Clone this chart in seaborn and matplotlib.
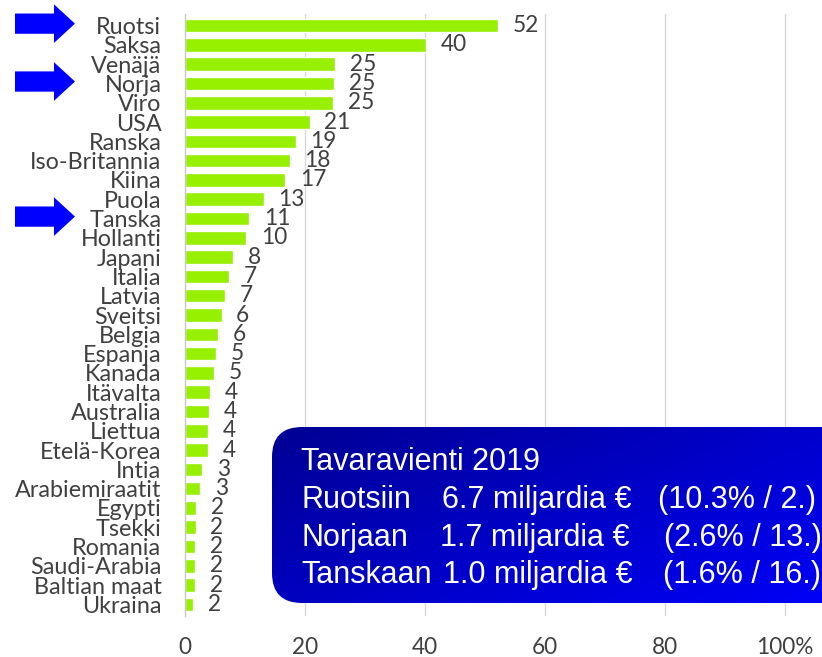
import numpy as np
import pandas as pd
import seaborn as sns
import matplotlib.pyplot as plt
import matplotlib.transforms as mtransforms
from matplotlib.patches import FancyArrow, FancyBboxPatch

# export share per country (%)
countries = ['Ruotsi', 'Saksa', 'Venäjä', 'Norja', 'Viro', 'USA', 'Ranska',
             'Iso-Britannia', 'Kiina', 'Puola', 'Tanska', 'Hollanti', 'Japani',
             'Italia', 'Latvia', 'Sveitsi', 'Belgia', 'Espanja', 'Kanada',
             'Itävalta', 'Australia', 'Liettua', 'Etelä-Korea', 'Intia',
             'Arabiemiraatit', 'Egypti', 'Tsekki', 'Romania', 'Saudi-Arabia',
             'Baltian maat', 'Ukraina']
values = [52.2, 40.2, 25.0, 24.9, 24.7, 20.8, 18.5, 17.5, 16.7, 13.1, 10.7,
          10.2, 8.0, 7.3, 6.7, 6.1, 5.5, 5.2, 4.9, 4.2, 4.0, 3.8, 3.8, 2.9,
          2.5, 1.9, 1.8, 1.7, 1.7, 1.7, 1.4]
value_labels = ['52', '40', '25', '25', '25', '21', '19', '18', '17', '13',
                '11', '10', '8', '7', '7', '6', '6', '5', '5', '4', '4', '4',
                '4', '3', '3', '2', '2', '2', '2', '2', '2']
x_ticks = [0, 20, 40, 60, 80, 100]
x_tick_labels = ['0', '20', '40', '60', '80', '100%']
highlighted = ['Ruotsi', 'Norja', 'Tanska']

box_title = 'Tavaravienti 2019'
box_names = ['Ruotsiin', 'Norjaan', 'Tanskaan']
box_amounts = ['6.7 miljardia €', '1.7 miljardia €', '1.0 miljardia €']
box_shares = ['(10.3% / 2.)', '(2.6% / 13.)', '(1.6% / 16.)']

df = pd.DataFrame({'maa': countries, 'osuus': values})

sns.set_theme(style='white')
plt.rcParams['font.family'] = ['Lato', 'DejaVu Sans']
text_col = '#404040'

fig = plt.figure(figsize=(8.22, 6.57), dpi=100)
W, H = 822, 657
ax = fig.add_axes([185 / W, 1 - 616 / H, (W - 185) / W, (616 - 14) / H])

sns.barplot(data=df, x='osuus', y='maa', color='#96F000', width=0.7,
            saturation=1, ax=ax)
ax.bar_label(ax.containers[0], labels=value_labels, padding=10.5,
             fontsize=16.3, color=text_col)

ax.set_xlim(0, (W - 185) / 6.0)
ax.set_ylim(len(countries) - 0.4, -0.6)
ax.set_xticks(x_ticks)
ax.set_xticklabels(x_tick_labels)
ax.tick_params(axis='x', length=0, pad=15, labelsize=16.3, labelcolor=text_col)
ax.tick_params(axis='y', length=0, pad=17, labelsize=16.8, labelcolor=text_col)
ax.set_xlabel('')
ax.set_ylabel('')
for x in x_ticks[1:]:
    ax.axvline(x, color='#D9D9D9', lw=1, zorder=0)
for s in ['top', 'right', 'bottom']:
    ax.spines[s].set_visible(False)
ax.spines['left'].set_color('#C8C8C8')
ax.spines['left'].set_linewidth(1)

# blue arrows beside the highlighted countries
blend = mtransforms.blended_transform_factory(fig.transFigure, ax.transData)
for name in highlighted:
    yi = countries.index(name) - 0.1
    arr = FancyArrow(15 / W, yi, 60 / W, 0, width=1.05, head_width=2.0,
                     head_length=21 / W, length_includes_head=True,
                     color='#0000FF', lw=0, transform=blend, clip_on=False)
    ax.add_patch(arr)

# gradient info box (runs past the right edge)
bx0, by_top, by_bot, bx1 = 272, 427, 603, 900
bw, bh = bx1 - bx0, by_bot - by_top
box_ax = fig.add_axes([bx0 / W, 1 - by_bot / H, bw / W, bh / H])
box_ax.axis('off')
gx, gy = np.meshgrid(np.linspace(0, 1, 300), np.linspace(0, 1, 100))
grad = 0.6 * gx + 0.4 * gy
rgb = np.zeros(grad.shape + (3,))
rgb[..., 2] = 0.58 + 0.42 * grad
patch = FancyBboxPatch((0, 0), bw, bh, boxstyle='round,pad=0,rounding_size=30',
                       facecolor='none', edgecolor='none')
box_ax.add_patch(patch)
im = box_ax.imshow(rgb, extent=(0, bw, 0, bh), aspect='auto', origin='upper')
im.set_clip_path(patch)
box_ax.set_xlim(0, bw)
box_ax.set_ylim(0, bh)

box_font = dict(color='white', fontsize=22, va='baseline', ha='left',
                family=['Liberation Sans', 'DejaVu Sans'])
box_ax.text(301 - bx0, by_bot - 470, box_title, **box_font)
baselines = [508, 546, 583]
amount_x = [442, 440, 443]
share_x = [658, 664, 663]
for i, base in enumerate(baselines):
    y = by_bot - base
    box_ax.text(301 - bx0, y, box_names[i], **box_font)
    box_ax.text(amount_x[i] - bx0, y, box_amounts[i], **box_font)
    box_ax.text(share_x[i] - bx0, y, box_shares[i], **box_font)

fig.savefig('out.png', dpi=100)
